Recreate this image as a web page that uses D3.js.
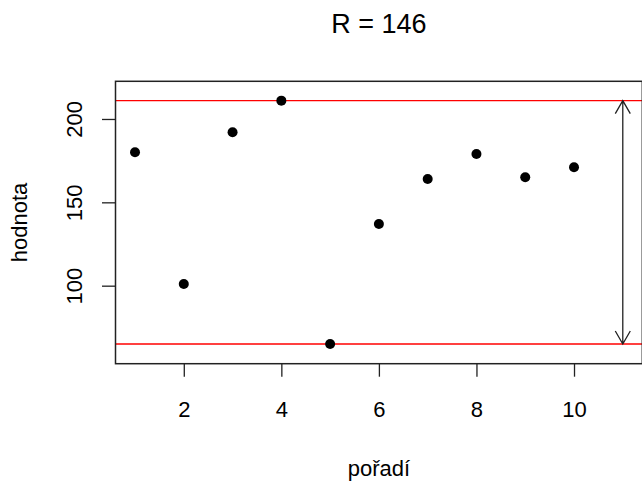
<!DOCTYPE html>
<html>
<head>
<meta charset="utf-8">
<script src="https://cdn.jsdelivr.net/npm/d3@7"></script>
<style>
  body { margin: 0; background: #fff; }
  text { font-family: "Liberation Sans", Arial, sans-serif; fill: #000; }
</style>
</head>
<body>
<div id="chart"></div>
<script>
// data
const order = [1, 2, 3, 4, 5, 6, 7, 8, 9, 10]
const values = [180, 101, 192, 211, 65, 137, 164, 179, 165, 171]
const xTicks = [2, 4, 6, 8, 10]
const yTicks = [100, 150, 200]
const arrowAt = 11

const W = 642, H = 482
const plot = { left: 115.5, right: 642.3, top: 81.3, bottom: 363.7 }

const svg = d3.select("#chart")
  .append("svg")
  .attr("width", W)
  .attr("height", H)

const x = d3.scaleLinear()
  .domain([0.6, 11.4])
  .range([plot.left, plot.right])

const y = d3.scaleLinear()
  .domain([53.2, 222.6])
  .range([plot.bottom, plot.top])

const vMin = d3.min(values), vMax = d3.max(values)

// title
svg.append("text")
  .attr("x", (plot.left + plot.right) / 2)
  .attr("y", 33)
  .attr("text-anchor", "middle")
  .style("font-size", "27px")
  .text(`R = ${vMax - vMin}`)

// x axis
const gx = svg.append("g")
  .attr("transform", `translate(0, ${plot.bottom})`)
  .call(d3.axisBottom(x).tickValues(xTicks).tickSize(13).tickSizeOuter(0).tickFormat(d3.format("d")))
gx.select(".domain").remove()
gx.selectAll(".tick line").attr("stroke", "#222").attr("stroke-width", 1.3)
gx.selectAll(".tick text")
  .attr("y", 53.3)
  .attr("dy", null)
  .style("font-size", "22px")
  .attr("font-family", null)

// y axis
const gy = svg.append("g")
  .attr("transform", `translate(${plot.left - 0.5}, 0)`)
  .call(d3.axisLeft(y).tickValues(yTicks).tickSize(13).tickSizeOuter(0))
gy.select(".domain").remove()
gy.selectAll(".tick line").attr("stroke", "#222").attr("stroke-width", 1.3)
gy.selectAll(".tick text")
  .attr("x", 0)
  .attr("y", -33)
  .attr("dy", null)
  .attr("transform", "rotate(-90)")
  .attr("text-anchor", "middle")
  .style("font-size", "22px")
  .attr("font-family", null)

// axis titles
svg.append("text")
  .attr("x", (plot.left + plot.right) / 2)
  .attr("y", 475.5)
  .attr("text-anchor", "middle")
  .style("font-size", "22px")
  .text("pořadí")

svg.append("text")
  .attr("transform", `translate(27, ${(plot.top + plot.bottom) / 2}) rotate(-90)`)
  .attr("text-anchor", "middle")
  .style("font-size", "22px")
  .text("hodnota")

// min / max lines
svg.selectAll(".range-line")
  .data([vMin, vMax])
  .enter()
  .append("line")
  .attr("class", "range-line")
  .attr("x1", plot.left)
  .attr("x2", plot.right)
  .attr("y1", d => y(d))
  .attr("y2", d => y(d))
  .attr("stroke", "#ff0000")
  .attr("stroke-width", 1.4)

// points
svg.selectAll(".pt")
  .data(values)
  .enter()
  .append("circle")
  .attr("class", "pt")
  .attr("cx", (d, i) => x(order[i]))
  .attr("cy", d => y(d))
  .attr("r", 5)
  .attr("fill", "#000")

// range arrow (both ends)
const ax = x(arrowAt), ay1 = y(vMax), ay2 = y(vMin)
const hl = 15, hx = hl * Math.sin(Math.PI / 6), hy = hl * Math.cos(Math.PI / 6)
svg.append("path")
  .attr("d", `M${ax},${ay1}L${ax},${ay2}` +
    `M${ax - hx},${ay1 + hy}L${ax},${ay1}L${ax + hx},${ay1 + hy}` +
    `M${ax - hx},${ay2 - hy}L${ax},${ay2}L${ax + hx},${ay2 - hy}`)
  .attr("fill", "none")
  .attr("stroke", "#222")
  .attr("stroke-width", 1.3)

// box
svg.append("rect")
  .attr("x", plot.left)
  .attr("y", plot.top)
  .attr("width", plot.right - plot.left)
  .attr("height", plot.bottom - plot.top)
  .attr("fill", "none")
  .attr("stroke", "#222")
  .attr("stroke-width", 1.5)
</script>
</body>
</html>
